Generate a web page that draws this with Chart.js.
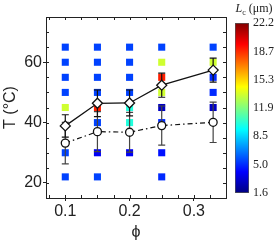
<!DOCTYPE html>
<html><head><meta charset="utf-8">
<script src="https://cdn.jsdelivr.net/npm/chart.js@4.4.0/dist/chart.umd.min.js"></script>
<style>
html,body{margin:0;padding:0;background:#fff;}
#wrap{position:relative;width:275px;height:242px;overflow:hidden;background:#fff;}
#main{position:absolute;left:0;top:0;}
#cb{position:absolute;left:235px;top:0;}
#cbt{position:absolute;left:224px;top:1px;width:60px;text-align:center;font:12px 'Liberation Serif',serif;color:#222;white-space:nowrap;line-height:14px;}
#cbt sub{font-size:8px;}
</style></head><body>
<div id="wrap">
<canvas id="main" width="275" height="242"></canvas>
<canvas id="cb" width="40" height="242"></canvas>
<div id="cbt"><i>L</i><sub>c</sub> (μm)</div>
</div>
<script>
// ---- data ----
const phiCols   = [0.1, 0.15, 0.2, 0.25, 0.33];
const tPeak     = [38.9, 46.4, 46.5, 52.4, 57.4];
const tPeakErr  = [3.7, 4.4, 4.3, 4.0, 4.0];
const tOnset    = [33.2, 37.0, 36.8, 39.0, 40.1];
const tOnsetErr = [6.9, 6.6, 6.6, 6.5, 6.7];

const sqPhi = [0.1,0.1,0.1,0.1,0.1,0.1,0.1,
               0.15,0.15,0.15,0.15,0.15,0.15,0.15,0.15,
               0.2,0.2,0.2,0.2,0.2,0.2,0.2,
               0.25,0.25,0.25,0.25,0.25,0.25,0.25,0.25,
               0.33,0.33,0.33,0.33,0.33];
const sqT   = [65,60,55,50,45,30,22,
               65,60,55,50,45,40,30,22,
               65,60,55,50,45,40,30,
               65,60,55,50,45,40,30,22,
               65,60,55,50,45];
const sqLc  = [5.5,5.5,5.5,5.5,13.5,5.5,5.5,
               5.5,5.5,5.5,5.5,19,5.5,4,5.5,
               5.5,5.5,5.5,5.5,10,10,4,
               5.5,13.5,19,13.5,3,5,4.5,5,
               5.5,13.5,5,5,3];

const xTickVals = [0.1, 0.2, 0.3];
const xTickLabels = ['0.1', '0.2', '0.3'];
const yTickVals = [20, 40, 60];
const yTickLabels = ['20', '40', '60'];
const cbTickVals = [1.6, 5.0, 8.5, 11.9, 15.3, 18.7, 22.2];
const cbTickLabels = ['1.6', '5.0', '8.5', '11.9', '15.3', '18.7', '22.2'];
const lcMin = 1.6, lcMax = 22.2;

// ---- colormap ----
function clamp01(v){ return Math.max(0, Math.min(1, v)); }
function jet(t){
  const r = clamp01(1.5 - Math.abs(4*t - 3));
  const g = clamp01(1.5 - Math.abs(4*t - 2));
  const b = clamp01(1.5 - Math.abs(4*t - 1));
  return 'rgb(' + Math.round(r*255) + ',' + Math.round(g*255) + ',' + Math.round(b*255) + ')';
}
function lcColor(v){ return jet((v - lcMin) / (lcMax - lcMin)); }

const FONT = "'Liberation Sans', Arial, sans-serif";
const INK = '#222';

const errPlugin = {
  id: 'errbars',
  afterDatasetDraw(chart, args) {
    if (args.index !== 2) return;
    const {ctx, scales: {x, y}} = chart;
    ctx.save();
    const series = [[tOnset, tOnsetErr, '#444'], [tPeak, tPeakErr, '#111']];
    series.forEach(([vals, errs, col]) => {
      ctx.strokeStyle = col;
      ctx.lineWidth = 1.2;
      for (let i = 0; i < phiCols.length; i++) {
        const px = x.getPixelForValue(phiCols[i]);
        const y1 = y.getPixelForValue(vals[i] - errs[i]);
        const y2 = y.getPixelForValue(vals[i] + errs[i]);
        ctx.beginPath();
        ctx.moveTo(px, y1); ctx.lineTo(px, y2);
        ctx.moveTo(px - 3.5, y1); ctx.lineTo(px + 3.5, y1);
        ctx.moveTo(px - 3.5, y2); ctx.lineTo(px + 3.5, y2);
        ctx.stroke();
      }
    });
    ctx.restore();
  }
};

const framePlugin = {
  id: 'frame',
  afterDraw(chart) {
    const {ctx, chartArea: a, scales: {x, y}} = chart;
    ctx.save();
    ctx.strokeStyle = INK;
    ctx.lineWidth = 1;
    ctx.beginPath();
    for (let v = 0.075; v <= x.max + 1e-9; v += 0.025) {
      const px = Math.round(x.getPixelForValue(v)) + 0.5;
      ctx.moveTo(px, a.top); ctx.lineTo(px, a.top + 3);
      ctx.moveTo(px, a.bottom); ctx.lineTo(px, a.bottom - 3);
    }
    for (let v = 20; v <= y.max + 1e-9; v += 5) {
      const py = Math.round(y.getPixelForValue(v)) + 0.5;
      ctx.moveTo(a.left, py); ctx.lineTo(a.left + 3, py);
      ctx.moveTo(a.right, py); ctx.lineTo(a.right - 3, py);
    }
    ctx.stroke();
    ctx.strokeRect(Math.round(a.left) + 0.5, Math.round(a.top) + 0.5, Math.round(a.right - a.left), Math.round(a.bottom - a.top));
    ctx.restore();
  }
};

new Chart(document.getElementById('main'), {
  type: 'scatter',
  data: {
    datasets: [
      {
        label: 'peak',
        data: phiCols.map((p, i) => ({x: p, y: tPeak[i]})),
        showLine: true,
        borderColor: '#111',
        borderWidth: 1.3,
        pointStyle: 'rectRot',
        pointRadius: 5,
        pointBackgroundColor: '#fff',
        pointBorderColor: '#111',
        pointBorderWidth: 1.3,
        order: 1
      },
      {
        label: 'onset',
        data: phiCols.map((p, i) => ({x: p, y: tOnset[i]})),
        showLine: true,
        borderColor: '#111',
        borderWidth: 1.2,
        borderDash: [5, 3, 1.5, 3],
        pointStyle: 'circle',
        pointRadius: 4,
        pointBackgroundColor: '#fff',
        pointBorderColor: '#111',
        pointBorderWidth: 1.3,
        order: 2
      },
      {
        label: 'Lc',
        data: sqPhi.map((p, i) => ({x: p, y: sqT[i]})),
        pointStyle: 'rect',
        pointRadius: 5,
        pointBorderWidth: 0,
        pointBackgroundColor: sqLc.map(lcColor),
        pointBorderColor: sqLc.map(lcColor),
        order: 10
      }
    ]
  },
  options: {
    responsive: false,
    devicePixelRatio: 1,
    animation: false,
    layout: {padding: {top: 17, right: 49, left: 0, bottom: 0}},
    plugins: {legend: {display: false}, tooltip: {enabled: false}},
    scales: {
      x: {
        type: 'linear', min: 0.07, max: 0.35,
        afterBuildTicks(s) { s.ticks = xTickVals.map(v => ({value: v})); },
        afterFit(s) { s.height = 44; },
        ticks: {
          autoSkip: false, maxRotation: 0, padding: 1,
          color: INK, font: {family: FONT, size: 16},
          callback: (v, i) => xTickLabels[i]
        },
        grid: {drawOnChartArea: false, drawTicks: true, tickLength: 3, color: INK},
        border: {display: true, color: INK},
        title: {display: true, text: 'ϕ', color: INK, font: {family: FONT, size: 16}, padding: {top: 0, bottom: 0}}
      },
      y: {
        type: 'linear', min: 15, max: 75,
        afterBuildTicks(s) { s.ticks = yTickVals.map(v => ({value: v})); },
        afterFit(s) { s.width = 46; },
        ticks: {
          autoSkip: false, padding: 1,
          color: INK, font: {family: FONT, size: 16},
          callback: (v, i) => yTickLabels[i]
        },
        grid: {drawOnChartArea: false, drawTicks: true, tickLength: 3, color: INK},
        border: {display: true, color: INK},
        title: {display: true, text: 'T (°C)', color: INK, font: {family: FONT, size: 16}, padding: {top: 1, bottom: 0}}
      }
    }
  },
  plugins: [errPlugin, framePlugin]
});

// ---- colorbar ----
const jetStops = [0, 0.125, 0.375, 0.625, 0.875, 1];
new Chart(document.getElementById('cb'), {
  type: 'bar',
  data: {
    labels: [''],
    datasets: [{
      data: [[lcMin, lcMax]],
      barPercentage: 1,
      categoryPercentage: 1,
      borderWidth: 1,
      borderColor: '#555',
      borderSkipped: false,
      backgroundColor(ctx) {
        const ch = ctx.chart;
        const a = ch.chartArea;
        if (!a) return '#00f';
        const g = ch.ctx.createLinearGradient(0, a.bottom, 0, a.top);
        jetStops.forEach(s => g.addColorStop(s, jet(s)));
        return g;
      }
    }]
  },
  options: {
    responsive: false,
    devicePixelRatio: 1,
    animation: false,
    layout: {padding: {top: 23, bottom: 49, left: 0, right: 0}},
    plugins: {legend: {display: false}, tooltip: {enabled: false}},
    scales: {
      x: {display: false},
      y: {
        position: 'right',
        min: lcMin, max: lcMax,
        afterBuildTicks(s) { s.ticks = cbTickVals.map(v => ({value: v})); },
        afterFit(s) { s.width = 26; },
        ticks: {
          autoSkip: false, padding: 4, color: INK,
          font: {family: "'Liberation Serif', 'Times New Roman', serif", size: 12},
          callback: (v, i) => cbTickLabels[i]
        },
        grid: {display: false, drawTicks: false},
        border: {display: false}
      }
    }
  }
});
</script>
</body></html>
